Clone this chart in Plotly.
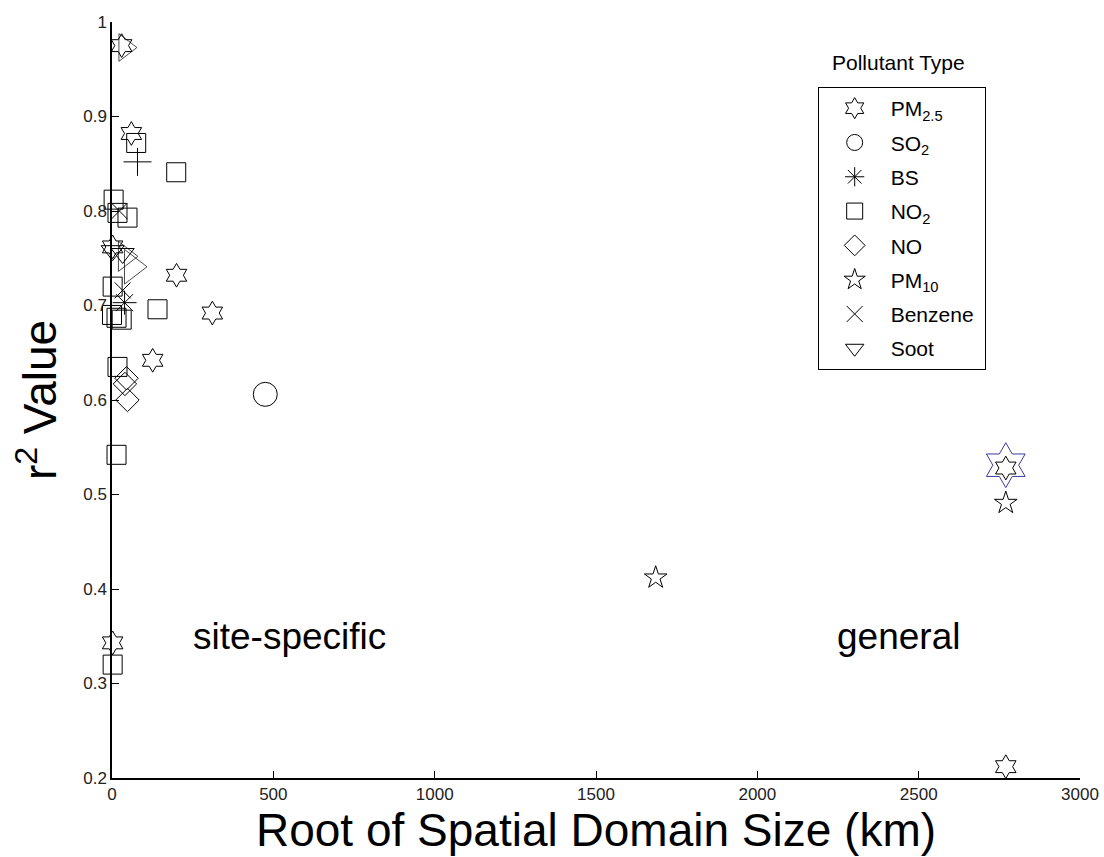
import plotly.graph_objects as go

# ---- data ----
pm25_x = [30, 60, 2, 200, 311, 126, 2, 2770, 2770]
pm25_y = [0.975, 0.882, 0.762, 0.732, 0.692, 0.642, 0.343, 0.528, 0.212]
so2_x = [475]
so2_y = [0.606]
bs_x = [39]
bs_y = [0.703]
no2_x = [75, 199, 5, 17, 48, 2, 0, 14, 30, 141, 17, 14, 2]
no2_y = [0.872, 0.841, 0.812, 0.798, 0.793, 0.72, 0.69, 0.687, 0.685, 0.696, 0.635, 0.542, 0.32]
no_x = [45, 40, 48]
no_y = [0.623, 0.617, 0.600]
pm10_x = [1685, 2770]
pm10_y = [0.412, 0.491]
benz_x = [23, 33]
benz_y = [0.80, 0.716]
soot_x = [2, 33]
soot_y = [0.758, 0.755]
tri_x = [40, 62, 40]
tri_y = [0.973, 0.741, 0.752]
tri_size = [24, 30, 26]
plus_x = [79]
plus_y = [0.852]
hl_x = [2770]
hl_y = [0.531]

x_ticks = [0, 500, 1000, 1500, 2000, 2500, 3000]
y_ticks = [0.2, 0.3, 0.4, 0.5, 0.6, 0.7, 0.8, 0.9, 1.0]
y_ticktext = ["0.2", "0.3", "0.4", "0.5", "0.6", "0.7", "0.8", "0.9", "1"]

FONT = "Arial, 'Liberation Sans', sans-serif"

fig = go.Figure()


def add(x, y, name, symbol, size, color="black", show=True, lw=1):
    fig.add_trace(go.Scatter(
        x=x, y=y, mode="markers", name=name, showlegend=show,
        legendgroup=name,
        cliponaxis=False,
        marker=dict(symbol=symbol, size=size, color=color,
                    line=dict(color=color, width=lw)),
    ))


# unlabeled series first (drawn underneath)
add(hl_x, hl_y, "highlight", "hexagram-open", 34, color="#3a3aa0", show=False)
add(tri_x, tri_y, "other", "triangle-right-open", tri_size, show=False)
add(plus_x, plus_y, "other2", "cross-thin-open", 20, show=False)

add(pm25_x, pm25_y, "PM<sub>2.5</sub>", "hexagram-open", 18)
add(so2_x, so2_y, "SO<sub>2</sub>", "circle-open", 24)
add(bs_x, bs_y, "BS", "asterisk-open", 20)
add(no2_x, no2_y, "NO<sub>2</sub>", "square-open", 19)
add(no_x, no_y, "NO", "diamond-open", 18)
add(pm10_x, pm10_y, "PM<sub>10</sub>", "star-open", 17)
add(benz_x, benz_y, "Benzene&nbsp;", "x-thin-open", 16)
add(soot_x, soot_y, "Soot", "triangle-down-open", 20)

fig.add_annotation(x=550, y=0.35, xref="x", yref="y", text="site-specific",
                   showarrow=False, font=dict(family=FONT, size=37, color="black"))
fig.add_annotation(x=2436, y=0.35, xref="x", yref="y", text="general",
                   showarrow=False, font=dict(family=FONT, size=37, color="black"))
fig.add_annotation(x=0.812, y=0.947, xref="paper", yref="paper", text="Pollutant Type",
                   xanchor="center", yanchor="middle",
                   showarrow=False, font=dict(family=FONT, size=21, color="black"))

fig.update_layout(
    width=1104, height=857,
    margin=dict(l=112, r=24, t=22, b=79),
    paper_bgcolor="white", plot_bgcolor="white",
    font=dict(family=FONT, color="black"),
    legend=dict(
        x=0.729, y=0.914, xanchor="left", yanchor="top",
        bordercolor="black", borderwidth=1, bgcolor="white",
        font=dict(family=FONT, size=21, color="black"),
        traceorder="grouped", tracegroupgap=4,
        itemsizing="trace", itemwidth=62,
    ),
)

fig.update_xaxes(
    range=[0, 3000], tickvals=x_ticks, automargin=False,
    showline=True, linecolor="black", linewidth=1.5, mirror=False,
    ticks="inside", ticklen=7, tickcolor="black",
    showgrid=False, zeroline=False,
    tickfont=dict(family=FONT, size=17, color="#222"),
    title=dict(text="Root of Spatial Domain Size (km)",
               font=dict(family=FONT, size=46, color="black"), standoff=0),
)
fig.update_yaxes(
    range=[0.2, 1.0], tickvals=y_ticks, ticktext=y_ticktext, automargin=False,
    showline=True, linecolor="black", linewidth=1.5, mirror=False,
    ticks="inside", ticklen=7, tickcolor="black",
    showgrid=False, zeroline=False,
    tickfont=dict(family=FONT, size=17, color="#222"),
    title=dict(text="r<sup>2</sup> Value",
               font=dict(family=FONT, size=46, color="black"), standoff=12),
)

fig.write_html("out.html")
